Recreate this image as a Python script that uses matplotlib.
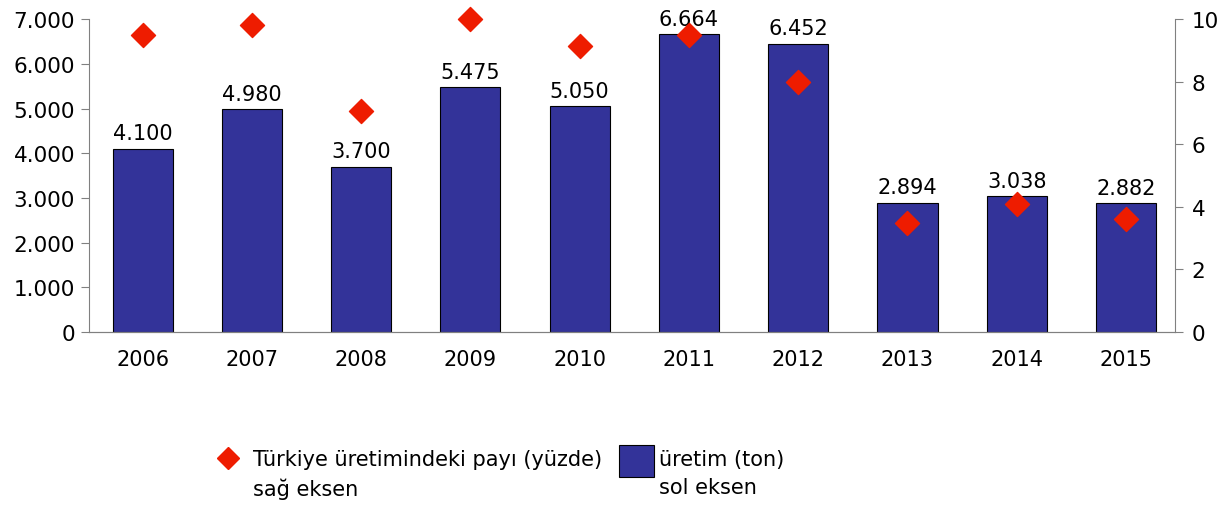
import numpy as np
import matplotlib
matplotlib.use("Agg")
import matplotlib.pyplot as plt
from matplotlib.ticker import FuncFormatter
from matplotlib.lines import Line2D
from matplotlib.patches import Rectangle

years = ['2006', '2007', '2008', '2009', '2010', '2011', '2012', '2013', '2014', '2015']
uretim = [4100, 4980, 3700, 5475, 5050, 6664, 6452, 2894, 3038, 2882]
pay = [9.5, 9.8, 7.05, 10.0, 9.15, 9.5, 8.0, 3.5, 4.1, 3.6]

bar_color = '#333399'
dia_color = '#ee1c00'
spine_color = '#808080'

plt.rcParams['font.family'] = 'DejaVu Sans'
plt.rcParams['font.size'] = 15

def tr_fmt(v, pos):
    return '{:,.0f}'.format(v).replace(',', '.')

W, H = 1228, 506
fig = plt.figure(figsize=(W / 100, H / 100), dpi=100)
ax = fig.add_axes([0.0725, 0.342, 0.8845, 0.618])
x = np.arange(len(years))

ax.bar(x, uretim, width=0.55, color=bar_color, edgecolor='black', linewidth=0.8, zorder=2)
for xi, v in zip(x, uretim):
    ax.text(xi, v + 120, tr_fmt(v, None), ha='center', va='bottom', fontsize=15)

ax.set_ylim(0, 7000)
ax.set_yticks(np.arange(0, 7001, 1000))
ax.yaxis.set_major_formatter(FuncFormatter(tr_fmt))
ax.set_xlim(-0.49, 9.45)
ax.set_xticks(x)
ax.set_xticklabels(years)
ax.tick_params(axis='x', length=0, pad=12)
ax.tick_params(axis='y', length=6, color=spine_color, pad=4, labelsize=15.5)

ax2 = ax.twinx()
ax2.scatter(x, pay, marker='D', s=150, color=dia_color, zorder=3, clip_on=False)
ax2.set_ylim(0, 10)
ax2.set_yticks(np.arange(0, 11, 2))
ax2.tick_params(axis='y', length=6, color=spine_color, pad=6, labelsize=15.5)

for a in (ax, ax2):
    a.spines['top'].set_visible(False)
    for s in ('left', 'right', 'bottom'):
        a.spines[s].set_color(spine_color)
ax.spines['right'].set_visible(False)
ax2.spines['left'].set_visible(False)

# legend below the plot, built by hand (handles sit on the first text line)
fig.add_artist(Line2D([228 / W], [1 - 459 / H], marker='D', markersize=11,
                      color=dia_color, linestyle='none', transform=fig.transFigure))
fig.text(253 / W, 1 - 450 / H, 'Türkiye üretimindeki payı (yüzde)\nsağ eksen',
         ha='left', va='top', fontsize=15, linespacing=1.5)
fig.add_artist(Rectangle((619 / W, 1 - 478 / H), 35 / W, 32 / H, facecolor=bar_color,
                         edgecolor='black', linewidth=0.8, transform=fig.transFigure))
fig.text(659 / W, 1 - 450 / H, 'üretim (ton)\nsol eksen',
         ha='left', va='top', fontsize=15, linespacing=1.5)

fig.savefig('out.png', dpi=100)
